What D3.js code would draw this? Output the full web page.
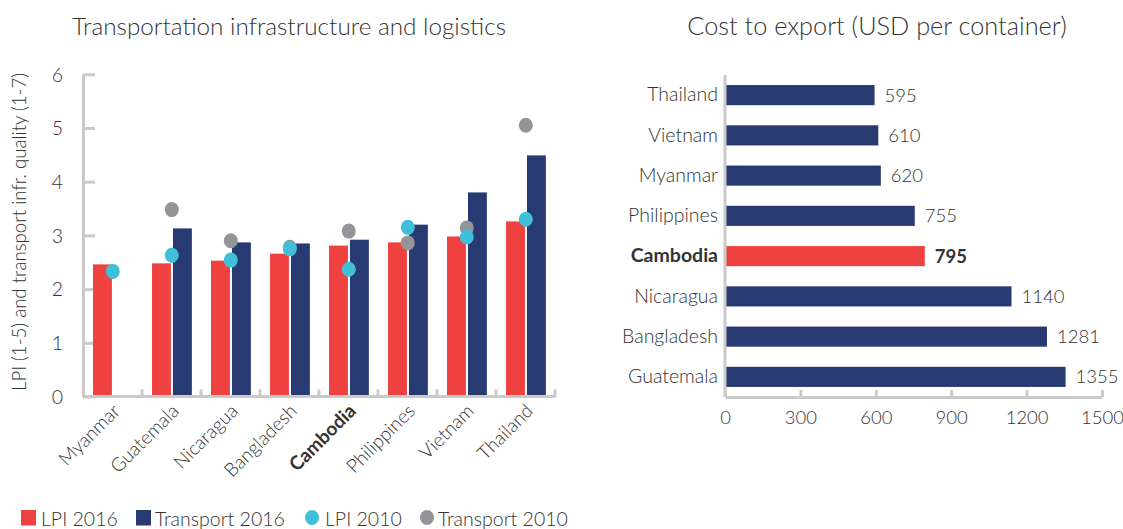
<!DOCTYPE html>
<html><head><meta charset="utf-8">
<script src="https://cdn.jsdelivr.net/npm/d3@7"></script>
<style>
body{margin:0;background:#fff;}
svg{display:block;}
text{font-family:Lato,"Open Sans",sans-serif;font-weight:300;fill:#333;}
</style></head>
<body>
<svg id="chart" width="1123" height="529"></svg>
<script>
// ---- Left chart data ----
const countriesLeft = ["Myanmar","Guatemala","Nicaragua","Bangladesh","Cambodia","Philippines","Vietnam","Thailand"];
const lpi2016 = [2.46, 2.48, 2.53, 2.66, 2.81, 2.87, 2.98, 3.26];
const transport2016 = [null, 3.13, 2.87, 2.85, 2.92, 3.20, 3.80, 4.49];
const lpi2010 = [2.33, 2.63, 2.54, 2.75, 2.37, 3.15, 2.97, 3.30];
const transport2010 = [null, 3.48, 2.90, 2.78, 3.08, 2.86, 3.14, 5.05];
const yTicksLeft = [0,1,2,3,4,5,6];

// ---- Right chart data ----
const countriesRight = ["Thailand","Vietnam","Myanmar","Philippines","Cambodia","Nicaragua","Bangladesh","Guatemala"];
const costExport = [595, 610, 620, 755, 795, 1140, 1281, 1355];
const xTicksRight = [0,300,600,900,1200,1500];

const highlight = "Cambodia";
const C = {red:"#EE4140", navy:"#283A72", cyan:"#40BFD9", gray:"#939598", axis:"#cacaca", text:"#333"};

const svg = d3.select("#chart");

// ================= LEFT CHART =================
const xL = d3.scaleBand().domain(countriesLeft).range([83, 555]).padding(0);
const yL = d3.scaleLinear().domain([0, 6]).range([396.5, 74.3]);
const bw = xL.bandwidth();

svg.append("text").attr("x", 289).attr("y", 35).attr("text-anchor","middle")
  .style("font-size","24.3px").text("Transportation infrastructure and logistics");

// y axis
const gyL = svg.append("g").attr("transform","translate(83,0)")
  .call(d3.axisLeft(yL).tickValues(yTicksLeft).tickSize(-12).tickSizeOuter(0).tickPadding(20).tickFormat(d3.format("d")));
gyL.select(".domain").attr("stroke", C.axis).attr("stroke-width", 3);
gyL.selectAll(".tick line").attr("stroke", C.axis).attr("stroke-width", 3);
gyL.selectAll(".tick text").style("font-size","19.5px").style("font-family","Lato, sans-serif").attr("fill", C.text).attr("dy","0.35em");

// x axis
const gxL = svg.append("g").attr("transform",`translate(0,${yL(0)})`);
gxL.append("line").attr("x1", 83).attr("x2", 556).attr("stroke", C.axis).attr("stroke-width", 3);
gxL.selectAll("line.tk").data(countriesLeft).join("line").attr("class","tk")
  .attr("x1", d => xL(d) + bw).attr("x2", d => xL(d) + bw)
  .attr("y1", 0).attr("y2", -7).attr("stroke", C.axis).attr("stroke-width", 3);
gxL.selectAll("text").data(countriesLeft).join("text")
  .attr("transform", d => `translate(${xL(d) + bw/2 - 1},${6}) rotate(-45)`)
  .attr("text-anchor","end").attr("dy","0.72em")
  .style("font-size","19px")
  .style("font-weight", d => d === highlight ? 700 : 300)
  .attr("fill", d => d === highlight ? "#111" : C.text)
  .text(d => d);

// y axis title
svg.append("text").attr("transform","translate(26,232) rotate(-90)").attr("text-anchor","middle")
  .style("font-size","18.6px").text("LPI (1-5) and transport infr. quality (1-7)");

// bars
svg.append("g").selectAll("rect").data(countriesLeft.map((c,i)=>({c, v: lpi2016[i]}))).join("rect")
  .attr("x", d => xL(d.c) + bw*0.17).attr("width", bw*0.32)
  .attr("y", d => yL(d.v)).attr("height", d => yL(0) - yL(d.v) - 1.5).attr("fill", C.red);
svg.append("g").selectAll("rect").data(countriesLeft.map((c,i)=>({c, v: transport2016[i]})).filter(d => d.v != null)).join("rect")
  .attr("x", d => xL(d.c) + bw*0.525).attr("width", bw*0.32)
  .attr("y", d => yL(d.v)).attr("height", d => yL(0) - yL(d.v) - 1.5).attr("fill", C.navy);
// dots
svg.append("g").selectAll("ellipse").data(countriesLeft.map((c,i)=>({c, v: transport2010[i]})).filter(d => d.v != null)).join("ellipse")
  .attr("cx", d => xL(d.c) + bw*0.505).attr("cy", d => yL(d.v)).attr("rx", 7).attr("ry", 7.5).attr("fill", C.gray);
svg.append("g").selectAll("ellipse").data(countriesLeft.map((c,i)=>({c, v: lpi2010[i]}))).join("ellipse")
  .attr("cx", d => xL(d.c) + bw*0.505).attr("cy", d => yL(d.v)).attr("rx", 7).attr("ry", 7.5).attr("fill", C.cyan);

// legend
const legend = [
  {label:"LPI 2016", color:C.red, shape:"rect", x:21, tx:41},
  {label:"Transport 2016", color:C.navy, shape:"rect", x:136, tx:155},
  {label:"LPI 2010", color:C.cyan, shape:"circle", x:312, tx:325},
  {label:"Transport 2010", color:C.gray, shape:"circle", x:427, tx:438}
];
const lg = svg.append("g");
legend.forEach(l => {
  if (l.shape === "rect") lg.append("rect").attr("x", l.x).attr("y", 510).attr("width", 15).attr("height", 15.5).attr("fill", l.color);
  else lg.append("ellipse").attr("cx", l.x).attr("cy", 517.5).attr("rx", 7).attr("ry", 7.5).attr("fill", l.color);
  lg.append("text").attr("x", l.tx).attr("y", 526).style("font-size","19.5px").text(l.label);
});

// ================= RIGHT CHART =================
const xR = d3.scaleLinear().domain([0, 1500]).range([725, 1102]);
const yR = d3.scaleBand().domain(countriesRight).range([75, 397]).paddingInner(0.5).paddingOuter(0.25);

svg.append("text").attr("x", 877).attr("y", 35).attr("text-anchor","middle")
  .style("font-size","25.3px").text("Cost to export (USD per container)");

const rows = countriesRight.map((c,i)=>({c, v: costExport[i]}));
svg.append("g").selectAll("rect").data(rows).join("rect")
  .attr("x", xR(0)).attr("y", d => yR(d.c)).attr("height", yR.bandwidth())
  .attr("width", d => xR(d.v) - xR(0)).attr("fill", d => d.c === highlight ? C.red : C.navy);

// value labels
svg.append("g").selectAll("text").data(rows).join("text")
  .attr("x", d => xR(d.v) + 10).attr("y", d => yR(d.c) + yR.bandwidth()/2).attr("dy","0.35em")
  .style("font-size","18.5px")
  .style("font-weight", d => d.c === highlight ? 700 : 300)
  .attr("fill", d => d.c === highlight ? "#111" : C.text)
  .text(d => d.v);

// y axis
const gyR = svg.append("g").attr("transform",`translate(${xR(0)},0)`)
  .call(d3.axisLeft(yR).tickSize(0).tickPadding(7));
gyR.select(".domain").remove();
gyR.append("line").attr("y1", 75).attr("y2", 397).attr("stroke", C.axis).attr("stroke-width", 3);
gyR.selectAll(".tick text").style("font-size","19.5px").style("font-family","Lato, sans-serif")
  .style("font-weight", d => d === highlight ? 700 : 300)
  .attr("fill", d => d === highlight ? "#111" : C.text);

// x axis
const gxR = svg.append("g").attr("transform","translate(0,397)")
  .call(d3.axisBottom(xR).tickValues(xTicksRight).tickSize(-7).tickSizeOuter(0).tickPadding(14).tickFormat(d3.format("d")));
gxR.select(".domain").attr("stroke", C.axis).attr("stroke-width", 3);
gxR.selectAll(".tick line").attr("stroke", C.axis).attr("stroke-width", 3);
gxR.selectAll(".tick text").style("font-size","18.5px").style("font-family","Lato, sans-serif").attr("fill", C.text);
</script>
</body></html>
